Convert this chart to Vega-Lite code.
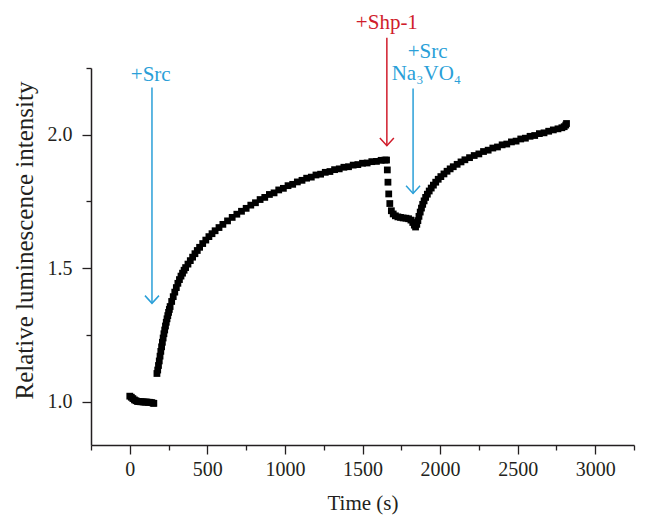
{
  "$schema": "https://vega.github.io/schema/vega-lite/v6.json",
  "width": 543,
  "height": 377,
  "autosize": "none",
  "padding": {"left": 91, "top": 68, "right": 14, "bottom": 82},
  "background": "white",
  "config": {
    "view": {"stroke": null},
    "font": "Liberation Serif"
  },
  "resolve": {"axis": {"x": "independent", "y": "independent"}},
  "datasets": {
    "curve": [
      {"t":0,"v":1.02},{"t":10,"v":1.016},{"t":20,"v":1.011},{"t":30,"v":1.006},{"t":40,"v":1.003},{"t":50,"v":1.0},{"t":60,"v":1.0},{"t":70,"v":0.999},{"t":80,"v":0.999},{"t":90,"v":0.998},{"t":100,"v":0.998},{"t":110,"v":0.998},{"t":120,"v":0.997},{"t":130,"v":0.997},{"t":140,"v":0.996},{"t":150,"v":0.994},{"t":155,"v":0.993},
      {"t":175,"v":1.105},{"t":180,"v":1.118},{"t":185,"v":1.135},{"t":190,"v":1.152},{"t":195,"v":1.17},{"t":200,"v":1.188},{"t":205,"v":1.205},{"t":210,"v":1.222},{"t":215,"v":1.238},{"t":220,"v":1.254},{"t":225,"v":1.268},{"t":230,"v":1.283},{"t":235,"v":1.297},{"t":240,"v":1.31},{"t":245,"v":1.322},{"t":250,"v":1.334},{"t":255,"v":1.345},{"t":260,"v":1.356},
      {"t":270,"v":1.375},{"t":280,"v":1.393},{"t":290,"v":1.41},{"t":300,"v":1.427},{"t":310,"v":1.443},{"t":320,"v":1.457},{"t":330,"v":1.47},{"t":340,"v":1.481},{"t":350,"v":1.492},{"t":360,"v":1.502},{"t":375,"v":1.515},{"t":390,"v":1.528},{"t":405,"v":1.541},{"t":420,"v":1.554},{"t":435,"v":1.566},{"t":450,"v":1.578},
      {"t":470,"v":1.592},{"t":490,"v":1.605},{"t":510,"v":1.618},{"t":530,"v":1.629},{"t":550,"v":1.64},{"t":575,"v":1.652},{"t":600,"v":1.664},{"t":630,"v":1.677},{"t":660,"v":1.69},{"t":690,"v":1.702},{"t":720,"v":1.713},{"t":750,"v":1.724},{"t":780,"v":1.736},{"t":810,"v":1.745},{"t":840,"v":1.757},{"t":870,"v":1.765},{"t":900,"v":1.776},{"t":930,"v":1.782},{"t":960,"v":1.793},{"t":990,"v":1.799},{"t":1020,"v":1.809},{"t":1050,"v":1.814},{"t":1080,"v":1.823},{"t":1110,"v":1.829},{"t":1140,"v":1.837},{"t":1170,"v":1.841},{"t":1200,"v":1.849},{"t":1230,"v":1.852},{"t":1260,"v":1.859},{"t":1290,"v":1.862},{"t":1320,"v":1.869},{"t":1350,"v":1.872},{"t":1380,"v":1.878},{"t":1410,"v":1.88},{"t":1440,"v":1.886},{"t":1470,"v":1.888},{"t":1500,"v":1.893},{"t":1530,"v":1.894},{"t":1560,"v":1.899},{"t":1590,"v":1.9},{"t":1620,"v":1.904},{"t":1645,"v":1.905},
      {"t":1655,"v":1.905},{"t":1660,"v":1.868},{"t":1664,"v":1.822},{"t":1669,"v":1.778},{"t":1676,"v":1.742},{"t":1686,"v":1.715},{"t":1698,"v":1.703},{"t":1712,"v":1.696},{"t":1728,"v":1.692},{"t":1745,"v":1.69},{"t":1762,"v":1.688},{"t":1780,"v":1.687},{"t":1797,"v":1.685},{"t":1812,"v":1.68},{"t":1824,"v":1.671},{"t":1834,"v":1.661},{"t":1842,"v":1.654},{"t":1850,"v":1.664},{"t":1857,"v":1.678},{"t":1864,"v":1.694},{"t":1872,"v":1.71},{"t":1880,"v":1.725},{"t":1888,"v":1.739},{"t":1897,"v":1.752},{"t":1907,"v":1.765},{"t":1918,"v":1.777},{"t":1930,"v":1.789},{"t":1943,"v":1.8},{"t":1957,"v":1.811},{"t":1972,"v":1.822},{"t":1988,"v":1.833},{"t":2005,"v":1.843},{"t":2025,"v":1.853},{"t":2045,"v":1.863},{"t":2065,"v":1.872},{"t":2085,"v":1.88},{"t":2110,"v":1.889},{"t":2135,"v":1.898},{"t":2160,"v":1.906},{"t":2190,"v":1.914},{"t":2220,"v":1.922},{"t":2250,"v":1.928},{"t":2280,"v":1.937},{"t":2310,"v":1.942},{"t":2340,"v":1.95},{"t":2370,"v":1.954},{"t":2400,"v":1.962},{"t":2430,"v":1.965},{"t":2460,"v":1.973},{"t":2490,"v":1.976},{"t":2520,"v":1.984},{"t":2550,"v":1.987},{"t":2580,"v":1.994},{"t":2610,"v":1.997},{"t":2640,"v":2.004},{"t":2670,"v":2.007},{"t":2700,"v":2.013},{"t":2730,"v":2.018},{"t":2760,"v":2.022},{"t":2785,"v":2.026},{"t":2800,"v":2.03},{"t":2810,"v":2.036},{"t":2815,"v":2.042}
    ],
    "arrows": [
      {"agent": "Src", "t": 143, "v": 2.177, "v2": 1.368},
      {"agent": "Shp-1", "t": 1657, "v": 2.363, "v2": 1.959},
      {"agent": "Src", "t": 1826, "v": 2.173, "v2": 1.78}
    ],
    "labels": [
      {"agent": "Src", "t": 135, "v": 2.224, "label": "+Src"},
      {"agent": "Shp-1", "t": 1657, "v": 2.42, "label": "+Shp-1"},
      {"agent": "Src", "t": 1920, "v": 2.309, "label": "+Src"},
      {"agent": "Src", "t": 1912, "v": 2.226, "label": "Na₃VO₄"}
    ]
  },
  "layer": [
    {
      "data": {"name": "curve"},
      "mark": {"type": "point", "shape": "square", "filled": true, "color": "black", "opacity": 1, "size": 46},
      "encoding": {
        "x": {
          "field": "t", "type": "quantitative",
          "scale": {"domain": [-250, 3250], "nice": false, "zero": false},
          "axis": {
            "orient": "bottom",
            "title": "Time (s)",
            "values": [0, 500, 1000, 1500, 2000, 2500, 3000],
            "format": "d",
            "grid": false,
            "domainColor": "#231f20", "domainWidth": 1.5,
            "tickColor": "#231f20", "tickWidth": 1.3, "tickSize": 9,
            "labelFont": "Liberation Serif", "labelFontSize": 20, "labelColor": "#231f20",
            "labelPadding": 5, "labelFlush": false, "labelOverlap": false, "labelBound": false,
            "titleFont": "Liberation Serif", "titleFontSize": 21, "titleFontWeight": "normal", "titleColor": "#231f20",
            "titleY": 58, "titleBaseline": "middle"
          }
        },
        "y": {
          "field": "v", "type": "quantitative",
          "scale": {"domain": [0.837, 2.25], "nice": false, "zero": false},
          "axis": {
            "orient": "left",
            "title": "Relative luminescence intensity",
            "values": [1, 1.5, 2],
            "format": ".1f",
            "grid": false,
            "domainColor": "#231f20", "domainWidth": 1.5,
            "tickColor": "#231f20", "tickWidth": 1.3, "tickSize": 9,
            "labelFont": "Liberation Serif", "labelFontSize": 20, "labelColor": "#231f20",
            "labelPadding": 10, "labelFlush": false, "labelOverlap": false, "labelBound": false,
            "titleFont": "Liberation Serif", "titleFontSize": 25, "titleFontWeight": "normal", "titleColor": "#231f20",
            "titleX": -67, "titleY": 172, "titleBaseline": "middle", "titleAlign": "center"
          }
        }
      }
    },
    {
      "data": {"name": "arrows"},
      "mark": {"type": "rule", "strokeWidth": 1.5},
      "encoding": {
        "x": {"field": "t", "type": "quantitative", "scale": {"domain": [-250, 3250], "nice": false, "zero": false},
          "axis": {"orient": "bottom", "title": null, "values": [-250, 250, 750, 1250, 1750, 2250, 2750, 3250], "labels": false, "domain": false, "grid": false, "tickColor": "#231f20", "tickWidth": 1.3, "tickSize": 5}},
        "y": {"field": "v", "type": "quantitative", "scale": {"domain": [0.837, 2.25], "nice": false, "zero": false},
          "axis": {"orient": "left", "title": null, "values": [1.25, 1.75, 2.25], "labels": false, "domain": false, "grid": false, "tickColor": "#231f20", "tickWidth": 1.3, "tickSize": 5}},
        "y2": {"field": "v2"},
        "color": {"field": "agent", "type": "nominal", "scale": {"domain": ["Src", "Shp-1"], "range": ["#2a9fd8", "#d01c2b"]}, "legend": null}
      }
    },
    {
      "data": {"name": "arrows"},
      "mark": {"type": "point", "shape": "M-1,-1.1L0,0L1,-1.1", "filled": false, "strokeWidth": 1.5, "opacity": 1, "size": 196},
      "encoding": {
        "x": {"field": "t", "type": "quantitative", "scale": {"domain": [-250, 3250], "nice": false, "zero": false}, "axis": null},
        "y": {"field": "v2", "type": "quantitative", "scale": {"domain": [0.837, 2.25], "nice": false, "zero": false}, "axis": null},
        "color": {"field": "agent", "type": "nominal", "scale": {"domain": ["Src", "Shp-1"], "range": ["#2a9fd8", "#d01c2b"]}, "legend": null}
      }
    },
    {
      "data": {"name": "labels"},
      "mark": {"type": "text", "font": "Liberation Serif", "fontSize": 21, "align": "center", "baseline": "middle"},
      "encoding": {
        "x": {"field": "t", "type": "quantitative", "scale": {"domain": [-250, 3250], "nice": false, "zero": false}, "axis": null},
        "y": {"field": "v", "type": "quantitative", "scale": {"domain": [0.837, 2.25], "nice": false, "zero": false}, "axis": null},
        "text": {"field": "label"},
        "color": {"field": "agent", "type": "nominal", "scale": {"domain": ["Src", "Shp-1"], "range": ["#2a9fd8", "#d01c2b"]}, "legend": null}
      }
    }
  ]
}
